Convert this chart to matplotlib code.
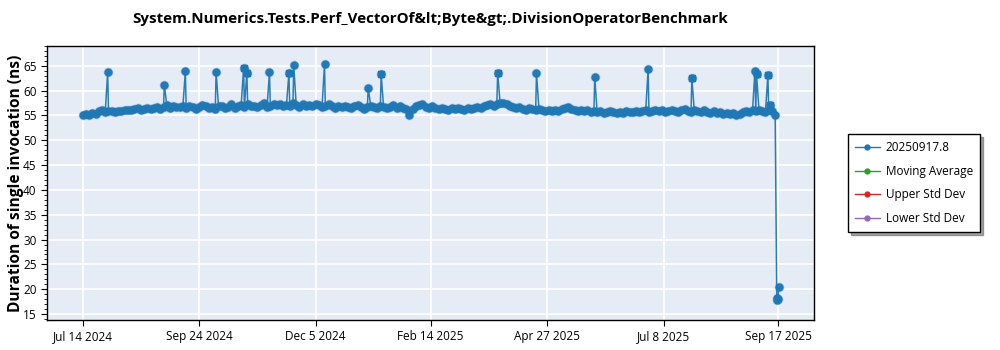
import numpy as np
import pandas as pd
import matplotlib
matplotlib.use("Agg")
import matplotlib.pyplot as plt
from matplotlib.lines import Line2D
from matplotlib.ticker import MultipleLocator

plt.rcParams['font.family'] = ['Open Sans', 'DejaVu Sans']

TITLE = "System.Numerics.Tests.Perf_VectorOf&lt;Byte&gt;.DivisionOperatorBenchmark"
SERIES_NAME = "20250917.8"
LEGEND_LABELS = [SERIES_NAME, "Moving Average", "Upper Std Dev", "Lower Std Dev"]
LEGEND_COLORS = ["#1f77b4", "#2ca02c", "#d62728", "#9467bd"]

# Regular runs, one every two days starting Jul 14 2024 (ns)
run_start = "2024-07-14"
run_step_days = 2
run_values = [
    55.0, 55.2, 55.1, 55.4, 55.3, 55.8, 56.0, 55.7, 55.9, 55.8,
    55.7, 55.9, 55.8, 56.0, 56.2, 56.1, 56.3, 56.5, 56.2, 56.4,
    56.6, 56.3, 56.5, 56.8, 56.4, 56.7, 57.2, 56.6, 56.9, 56.7,
    56.8, 57.0, 56.5, 56.9, 56.7, 56.3, 56.8, 57.1, 56.9, 56.6,
    56.7, 56.4, 56.9, 57.0, 56.6, 56.8, 57.3, 56.5, 56.9, 57.1,
    56.8, 57.4, 56.9, 57.0, 56.7, 57.2, 57.5, 56.8, 57.0, 57.3,
    57.1, 57.4, 56.9, 57.2, 57.0, 57.5, 57.1, 56.8, 57.3, 57.0,
    57.2, 56.9, 57.4, 57.1, 56.8, 57.0, 57.3, 56.9, 56.6, 56.9,
    56.7, 57.0, 56.8, 56.5, 56.9, 57.1, 56.7, 56.4, 56.8, 57.0,
    56.8, 56.6, 56.9, 56.7, 56.5, 56.8, 57.2, 56.6, 56.9, 56.5,
    56.4, 55.1, 56.3, 56.9, 57.1, 57.3, 56.8, 56.6, 56.9, 56.5,
    56.3, 56.6, 56.4, 56.2, 56.5, 56.3, 56.6, 56.4, 56.2, 56.5,
    56.3, 56.6, 56.8, 56.5, 56.9, 57.1, 57.3, 57.0, 57.4, 57.6,
    57.5, 57.3, 57.0, 56.7, 56.5, 56.8, 56.4, 56.2, 56.5, 56.3,
    56.1, 56.4, 56.0, 55.8, 56.2, 55.9, 56.1, 55.8, 56.3, 56.6,
    56.7, 56.4, 56.1, 55.9, 56.2, 55.8, 56.0, 55.7, 55.9, 55.6,
    55.8, 55.5, 55.7, 55.9, 55.6, 55.4, 55.7, 55.5, 55.8, 55.6,
    55.7, 55.9, 55.6, 55.8, 56.0, 55.7, 55.9, 56.1, 55.8, 56.0,
    55.7, 55.9, 56.2, 55.8, 55.6, 56.0, 56.3, 55.9, 55.7, 56.1,
    55.8, 55.6, 56.0, 55.7, 55.5, 55.8, 55.4, 55.6, 55.3, 55.5,
    55.2, 55.4, 55.1, 55.3, 55.6, 55.9, 55.7, 56.0, 55.8, 56.1,
    55.9, 55.7, 56.0, 55.8, 55.0,
]

# Outlier runs
spike_dates = ["2024-07-29", "2024-09-02", "2024-09-15", "2024-10-04",
               "2024-10-21", "2024-10-23", "2024-11-06", "2024-11-18",
               "2024-11-21", "2024-12-10", "2025-01-06", "2025-01-14",
               "2025-03-27", "2025-04-20", "2025-05-26", "2025-06-28",
               "2025-07-25", "2025-09-02", "2025-09-03", "2025-09-10",
               "2025-09-11"]
spike_values = [63.7, 61.1, 63.9, 63.8,
                64.5, 63.6, 63.7, 63.5,
                65.1, 65.4, 60.6, 63.3,
                63.6, 63.5, 62.8, 64.4,
                62.5, 64.0, 63.3, 63.2,
                57.2]
spike_square = [False, False, False, False,
                True, True, False, True,
                False, False, False, True,
                True, False, False, False,
                True, False, True, True,
                True]

# Latest runs after the drop
tail_dates = ["2025-09-16 00:00", "2025-09-16 08:00", "2025-09-16 16:00", "2025-09-17 06:00"]
tail_values = [17.9, 18.2, 18.0, 20.4]

TICK_DATES = ["2024-07-14", "2024-09-24", "2024-12-05", "2025-02-14",
              "2025-04-27", "2025-07-08", "2025-09-17"]
TICK_LABELS = ["Jul 14 2024", "Sep 24 2024", "Dec 5 2024", "Feb 14 2025",
               "Apr 27 2025", "Jul 8 2025", "Sep 17 2025"]

BLUE = LEGEND_COLORS[0]

run_dates = pd.Timestamp(run_start) + pd.to_timedelta(
    np.arange(len(run_values)) * run_step_days, unit="D")
spk = pd.to_datetime(spike_dates) + pd.Timedelta(hours=12)
series = pd.concat([
    pd.Series(run_values, index=run_dates),
    pd.Series(spike_values, index=spk),
    pd.Series(tail_values, index=pd.to_datetime(tail_dates)),
]).sort_index()

fig = plt.figure(figsize=(10, 3.5), dpi=100)
ax = fig.add_axes([0.047, 0.0857, 0.767, 0.783])
ax.set_facecolor("#E5ECF6")

# soft halo under the main trace
ax.plot(series.index, series.values, color=BLUE, lw=0, marker="o",
        ms=6.0, alpha=0.3, zorder=2)
ax.plot(series.index, series.values, color=BLUE, lw=1.1, marker="o",
        ms=4.8, alpha=0.95, zorder=3)
sq = np.array(spike_square)
ax.plot(spk[sq], np.array(spike_values)[sq], ls="none", marker="s", ms=4.0,
        color=BLUE, zorder=4)

ax.set_xlim(pd.Timestamp("2024-06-22"), pd.Timestamp("2025-10-09"))
ax.set_ylim(13.8, 69.0)
ax.set_xticks(pd.to_datetime(TICK_DATES))
ax.set_xticklabels(TICK_LABELS)
ax.yaxis.set_major_locator(MultipleLocator(5))
ax.yaxis.set_minor_locator(MultipleLocator(1))
ax.tick_params(axis="both", labelsize=8.5, colors="black", length=4)
ax.tick_params(axis="y", which="minor", length=2)
ax.grid(True, color="white", lw=1.2, zorder=0)
ax.set_axisbelow(True)
for s in ax.spines.values():
    s.set_color("black")
    s.set_linewidth(1.0)

ax.set_ylabel("Duration of single invocation (ns)", fontsize=11.2,
              fontweight="bold", labelpad=-1)
fig.suptitle(TITLE, x=0.4305, y=0.965, fontsize=10.9, fontweight="bold")

handles = [Line2D([], [], color=c, lw=1, marker="o", ms=3.5) for c in LEGEND_COLORS]
leg = fig.legend(handles, LEGEND_LABELS, loc="center left",
                 bbox_to_anchor=(0.848, 0.477), borderaxespad=0, fontsize=8.5,
                 frameon=True, fancybox=False, shadow=True, edgecolor="black",
                 handlelength=2.1, borderpad=0.6, labelspacing=0.9,
                 handletextpad=0.5)
leg.get_frame().set_linewidth(1.0)

fig.savefig("out.png", dpi=100)
